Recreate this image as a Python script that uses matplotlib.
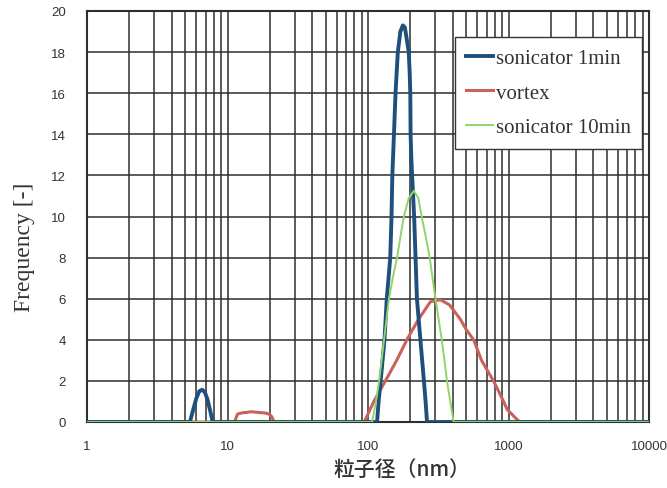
import matplotlib
matplotlib.use("Agg")
import matplotlib.pyplot as plt
from matplotlib.ticker import LogLocator, FixedLocator, NullFormatter

# ---- data ----
son1_x = [1, 5.4, 5.7, 6.0, 6.3, 6.6, 6.9, 7.2, 7.5, 7.85,
          116, 119, 123, 127, 131, 136, 140, 144, 147, 149, 151, 154, 157, 163, 170, 177,
          183, 189, 195, 198, 200, 201, 203, 206, 213, 218, 223, 236, 250, 257, 263, 10000]
son1_y = [0, 0, 0.6, 1.15, 1.5, 1.57, 1.45, 1.1, 0.6, 0,
          0, 1, 2, 3, 4, 6, 7, 8, 10, 12, 13, 14.5, 16, 18, 19, 19.3,
          19.2, 18.6, 18, 17, 16, 14, 13, 12, 10, 8, 6, 4, 2, 1, 0, 0]

vortex_x = [1, 11.2, 11.8, 12.8, 13.8, 14.7, 15.8, 16.8, 17.7, 18.8, 19.8, 20.7, 21.5,
            94, 110, 133, 160, 189, 229, 278, 327, 380, 454, 500, 565, 643, 781, 850, 922,
            980, 1050, 1120, 1205, 10000]
vortex_y = [0, 0, 0.39, 0.45, 0.47, 0.5, 0.48, 0.46, 0.45, 0.43, 0.38, 0.25, 0,
            0, 1, 2, 3, 4, 5, 5.85, 5.95, 5.7, 5, 4.5, 4, 3, 2, 1.5, 1,
            0.6, 0.4, 0.2, 0, 0]

son10_x = [1, 107, 114, 120, 125, 130, 141, 150, 161, 170, 180, 195, 212, 228, 241, 258,
           275, 288, 302, 335, 350, 365, 385, 407, 10000]
son10_y = [0, 0, 1, 2, 3, 4, 6, 7, 8, 9, 10, 10.9, 11.25, 10.9, 10, 9,
           8, 7, 6, 4, 3, 2, 1, 0, 0]

labels = ["sonicator 1min", "vortex", "sonicator 10min"]
x_ticks = [1, 10, 100, 1000, 10000]
x_ticklabels = ["1", "10", "100", "1000", "10000"]
y_ticks = [0, 2, 4, 6, 8, 10, 12, 14, 16, 18, 20]

fig = plt.figure(figsize=(6.67, 4.89), dpi=100)
ax = fig.add_axes([87/667, 1-423/489, (649-87)/667, (423-12)/489])

ax.plot(son1_x, son1_y, color="#1f4f7c", lw=2.8, label=labels[0], zorder=5)
ax.plot(vortex_x, vortex_y, color="#c9625b", lw=2.2, label=labels[1], zorder=4)
ax.plot(son10_x, son10_y, color="#8fd56b", lw=1.4, label=labels[2], zorder=6)

ax.set_xscale("log")
ax.set_xlim(1, 10000)
ax.set_ylim(0, 20)
ax.xaxis.set_major_locator(FixedLocator(x_ticks))
ax.set_xticklabels(x_ticklabels)
ax.xaxis.set_minor_locator(LogLocator(base=10, subs=range(2, 10)))
ax.xaxis.set_minor_formatter(NullFormatter())
ax.set_yticks(y_ticks)

ax.grid(True, which="both", axis="x", color="#2e2e2e", lw=1.1)
ax.grid(True, which="major", axis="y", color="#2e2e2e", lw=1.1)
ax.set_axisbelow(True)
for s in ax.spines.values():
    s.set_color("#2e2e2e")
    s.set_linewidth(1.5)

ax.tick_params(axis="both", which="both", length=0, labelsize=9.5, colors="#333333",
               labelfontfamily="Liberation Sans")
ax.tick_params(axis="y", pad=15)
ax.tick_params(axis="x", pad=13)

ax.set_ylabel("Frequency [-]", family="Liberation Serif", fontsize=17, color="#333333")
ax.yaxis.set_label_coords(-0.092, 0.428)
ax.set_xlabel("粒子径（nm）", family=["Noto Sans CJK JP", "DejaVu Sans"], fontsize=15,
              color="#333333", fontweight="medium")
ax.xaxis.set_label_coords(0.56, -0.088)

leg = ax.legend(loc="upper right", bbox_to_anchor=((642-87)/562, (423-38)/411),
                prop={"family": "Liberation Serif", "size": 15}, frameon=True, fancybox=False,
                edgecolor="#333333", framealpha=1, handlelength=1.3, handletextpad=0.1,
                labelspacing=0.72, borderpad=0.55, borderaxespad=0)
leg.get_frame().set_linewidth(1.0)
for t in leg.get_texts():
    t.set_color("#333333")

fig.savefig("out.png", dpi=100)
